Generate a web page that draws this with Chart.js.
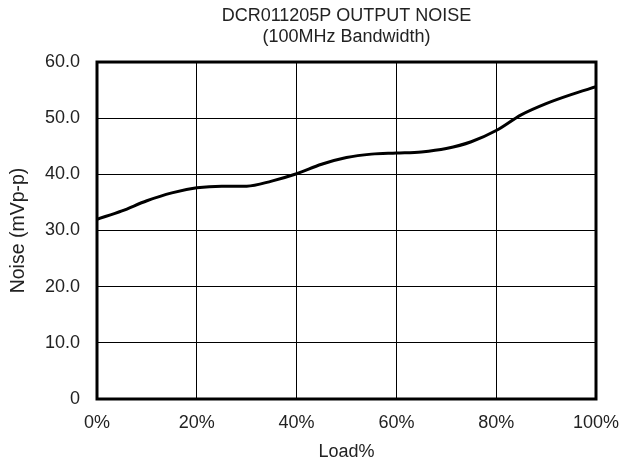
<!DOCTYPE html>
<html lang="en">
<head>
    <meta charset="UTF-8">
    <title>DCR011205P Output Noise</title>
    <script src="https://cdn.jsdelivr.net/npm/chart.js"></script>
    <style>
        body { margin: 0; background: #fff; }
        #wrap { width: 634px; height: 466px; }
    </style>
</head>
<body>
    <div id="wrap"><canvas id="chart"></canvas></div>
    <script>
        // values, every 5% load
        const loadPct = [0, 5, 10, 15, 20, 25, 30, 35, 40, 45, 50, 55, 60, 65, 70, 75, 80, 85, 90, 95, 100];
        const noiseMvpp = [32.0, 33.5, 35.3, 36.7, 37.6, 37.9, 37.9, 38.8, 40.1, 41.8, 43.0, 43.6, 43.8, 44.0, 44.6, 45.8, 47.8, 50.6, 52.6, 54.2, 55.6];
        const titleLines = ['DCR011205P OUTPUT NOISE', '(100MHz Bandwidth)'];

        const txt = '#222';
        const fontFam = '"Liberation Sans", Arial, sans-serif';

        // thick frame round the plot area
        const frame = {
            id: 'frame',
            afterDatasetsDraw(chart) {
                const a = chart.chartArea, c = chart.ctx;
                c.save();
                c.strokeStyle = '#000';
                c.lineWidth = 3;
                c.strokeRect(a.left, a.top, a.right - a.left, a.bottom - a.top);
                c.restore();
            }
        };

        const ctx = document.getElementById('chart').getContext('2d');
        new Chart(ctx, {
            type: 'line',
            data: {
                datasets: [{
                    data: loadPct.map((x, i) => ({ x: x, y: noiseMvpp[i] })),
                    borderColor: '#000',
                    borderWidth: 3,
                    pointRadius: 0,
                    cubicInterpolationMode: 'monotone',
                    fill: false
                }]
            },
            options: {
                responsive: true,
                maintainAspectRatio: false,
                animation: false,
                layout: { padding: { left: 0, right: 38, top: 0, bottom: 0 } },
                plugins: {
                    legend: { display: false },
                    tooltip: { enabled: false },
                    title: {
                        display: true,
                        fullSize: false,
                        text: titleLines,
                        color: txt,
                        font: { family: fontFam, size: 18, weight: 'normal', lineHeight: 1.17 },
                        padding: { top: 5.5, bottom: 14.4 }
                    }
                },
                scales: {
                    x: {
                        type: 'linear',
                        min: 0,
                        max: 100,
                        ticks: {
                            stepSize: 20,
                            color: txt,
                            padding: 13,
                            font: { family: fontFam, size: 18 },
                            callback: v => v + '%'
                        },
                        grid: { color: '#000', lineWidth: 1, drawTicks: false },
                        border: { display: false },
                        title: {
                            display: true,
                            text: 'Load%',
                            color: txt,
                            font: { family: fontFam, size: 18 },
                            padding: { top: 0, bottom: 3 }
                        },
                        afterFit: s => { s.height = 67; }
                    },
                    y: {
                        min: 0,
                        max: 60,
                        ticks: {
                            stepSize: 10,
                            color: txt,
                            padding: 17,
                            font: { family: fontFam, size: 18 },
                            callback: v => v === 0 ? '0' : v.toFixed(1)
                        },
                        grid: { color: '#000', lineWidth: 1, drawTicks: false },
                        border: { display: false },
                        title: {
                            display: true,
                            text: 'Noise (mVp-p)',
                            color: txt,
                            font: { family: fontFam, size: 19.5 },
                            padding: { top: 7, bottom: 0 }
                        },
                        afterFit: s => { s.width = 97; }
                    }
                }
            },
            plugins: [frame]
        });
    </script>
</body>
</html>
